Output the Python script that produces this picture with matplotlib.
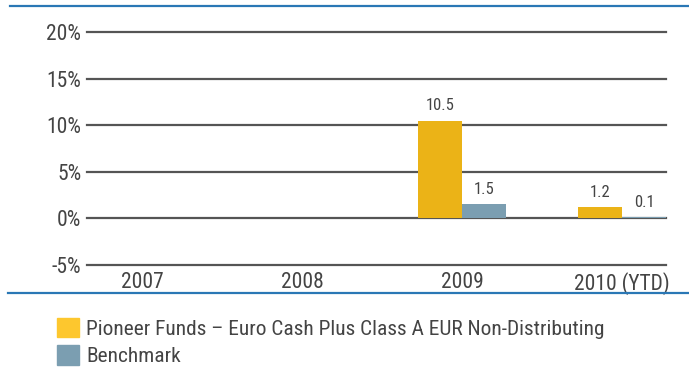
import matplotlib.pyplot as plt
from matplotlib.patches import Patch
from matplotlib.lines import Line2D

years = ["2007", "2008", "2009", "2010 (YTD)"]
fund = [None, None, 10.5, 1.2]
benchmark = [None, None, 1.5, 0.1]
yticks = [-5, 0, 5, 10, 15, 20]

fund_name = "Pioneer Funds \u2013 Euro Cash Plus Class A EUR Non-Distributing"
bench_name = "Benchmark"

FUND_COL = "#EBB317"
FUND_KEY = "#FDC72E"
BENCH_COL = "#7B9EB1"
TEXT_COL = "#444444"
GRID_COL = "#555555"
RULE_COL = "#2A77B5"

plt.rcParams["font.family"] = ["Roboto Condensed", "DejaVu Sans"]

W, H = 689, 370
fig = plt.figure(figsize=(W / 100, H / 100), dpi=100)
ax = fig.add_axes([87 / W, 1 - 265 / H, (666 - 87) / W, (265 - 32) / H])

width = 0.275
for i, (f, b) in enumerate(zip(fund, benchmark)):
    if f is not None:
        ax.bar(i - width / 2, f, width, color=FUND_COL, zorder=3)
        ax.text(i - width / 2, f + 0.8, f"{f:.1f}", ha="center", va="bottom",
                fontsize=12, color=TEXT_COL)
    if b is not None:
        ax.bar(i + width / 2, b, width, color=BENCH_COL, zorder=3)
        ax.text(i + width / 2, b + 0.8, f"{b:.1f}", ha="center", va="bottom",
                fontsize=12, color=TEXT_COL)

for y in yticks:
    ax.axhline(y, color=GRID_COL, lw=1.6, zorder=2, clip_on=False)

ax.set_xlim(-0.344, 3.275)
ax.set_ylim(-5, 20)
ax.set_yticks(yticks)
ax.set_yticklabels([f"{y}%" for y in yticks], fontsize=15.5, color=TEXT_COL)
ax.set_xticks(range(len(years)))
ax.set_xticklabels(years, fontsize=15.5, color=TEXT_COL)
ax.tick_params(length=0, pad=4)
ax.tick_params(axis="x", pad=5)
for s in ax.spines.values():
    s.set_visible(False)

# blue rules above the chart and between chart and key
fig.add_artist(Line2D([10 / W, 1], [1 - 6 / H] * 2, color=RULE_COL, lw=1.6))
fig.add_artist(Line2D([8 / W, 1], [1 - 293 / H] * 2, color=RULE_COL, lw=1.6))

handles = [Patch(color=FUND_KEY), Patch(color=BENCH_COL)]
fig.legend(handles, [fund_name, bench_name], loc="upper left",
           bbox_to_anchor=(48 / W, 1 - 309 / H), frameon=False,
           fontsize=15.4, handlelength=1.05, handleheight=1.05, handletextpad=0.35,
           labelspacing=0.3, labelcolor=TEXT_COL, borderaxespad=0)

fig.savefig("out.png", dpi=100)
